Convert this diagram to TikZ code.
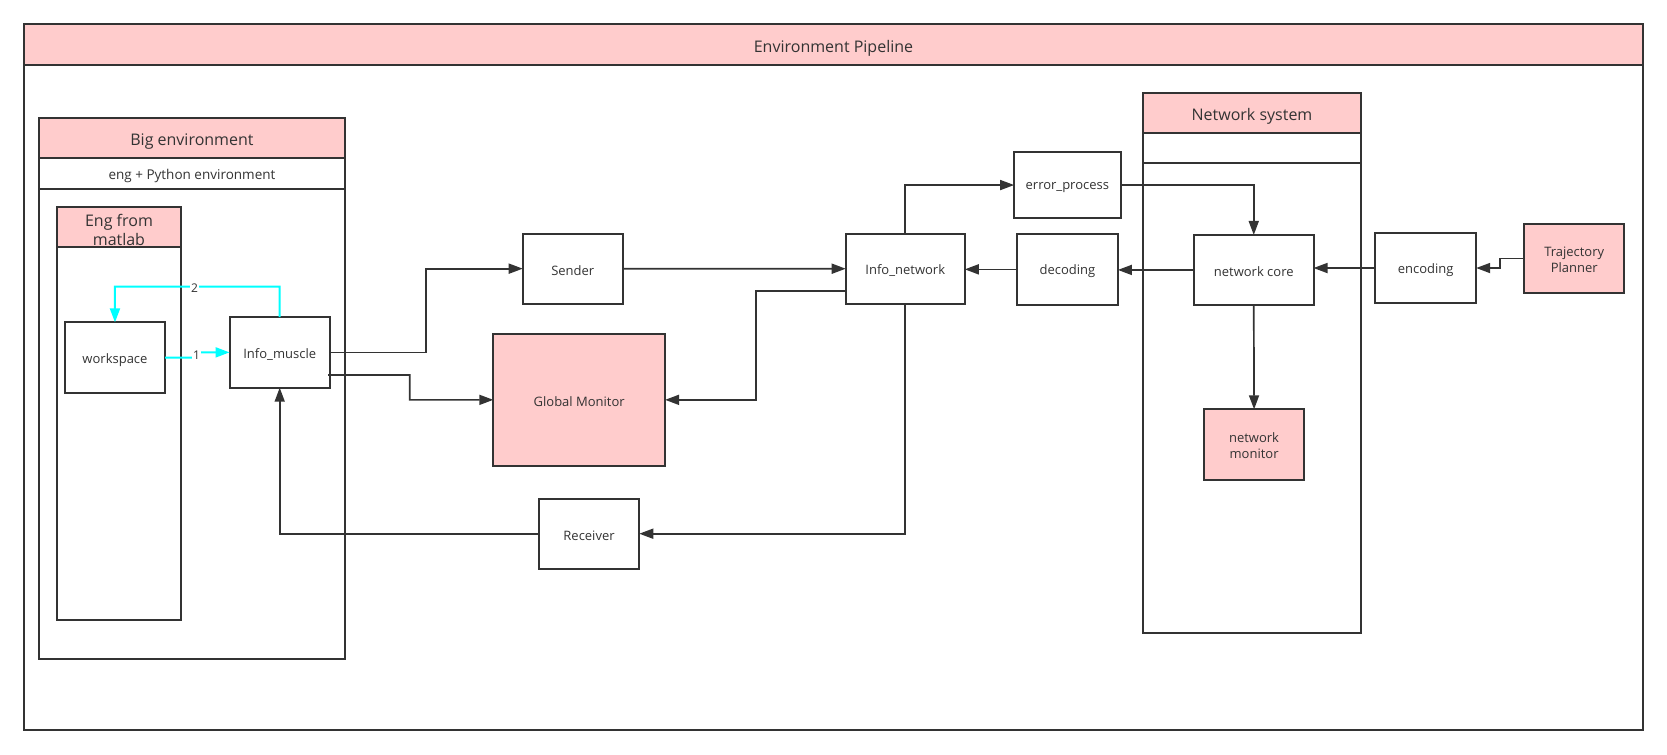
\documentclass[tikz,border=0pt]{standalone}
\usepackage{fontspec}
\setmainfont{Open Sans}
\usetikzlibrary{arrows.meta,calc}
\definecolor{pinkfill}{HTML}{FFCCCC}
\definecolor{ink}{HTML}{333333}
\definecolor{aqua}{HTML}{00FFFF}
\newcommand\mkbox[8]{%
  \node[#1,minimum width={(#5-#3)*1.0631pt},minimum height={(#6-#4)*1.0631pt}] (#2) at ({(#3+#5)/2},{(#4+#6)/2}) {};
  \node[#1,draw=none,fill=none] (#2-t) at ($(#2.center)+(0,#7)$) {#8};}
\begin{document}
\begin{tikzpicture}[x=1.0631pt,y=-1.0631pt,
  box/.style={draw=ink,line width=2pt,inner sep=0pt,outer sep=0pt,text=ink,align=center,font=\fontsize{13}{16}\selectfont},
  pinkbox/.style={box,fill=pinkfill},
  headbox/.style={pinkbox,font=\fontsize{16}{19}\selectfont},
  subbox/.style={box,font=\fontsize{13.5}{16}\selectfont},
  conn/.style={draw=ink,line width=1.7pt,-{Triangle[length=14pt,width=10pt]}},
  cyanconn/.style={draw=aqua,line width=2pt,-{Triangle[length=14pt,width=10pt]}},
  numlabel/.style={fill=white,inner sep=1pt,text=ink,font=\fontsize{12}{14}\selectfont}]
\useasboundingbox (0,0) rectangle (1568,710);
\fill[white] (0,0) rectangle (1568,710);
% outer container
\mkbox{box}{outer}{23}{61}{1545}{687}{0}{}
\mkbox{headbox}{titlebar}{23}{23}{1545}{61}{3.5}{Environment Pipeline}
% Big environment
\mkbox{box}{bigbody}{36.5}{177.5}{324.6}{620}{0}{}
\mkbox{headbox}{bighead}{36.5}{111.3}{324.6}{148.9}{3.5}{Big environment}
\mkbox{subbox}{bigsub}{36.5}{148.9}{324.6}{177.5}{2}{eng + Python environment}
% Eng from matlab
\mkbox{box}{engbody}{53.8}{232.3}{170}{583}{0}{}
\mkbox{headbox}{enghead}{53.8}{194.7}{170}{232.3}{2.5}{Eng from\\matlab}
% Network system
\mkbox{box}{netbody}{1075}{153.3}{1280.3}{595}{0}{}
\mkbox{headbox}{nethead}{1075}{87.9}{1280.3}{124.9}{3.5}{Network system}
\mkbox{box}{netsub}{1075}{124.9}{1280.3}{153.3}{0}{}
% nodes
\mkbox{box}{ws}{60.9}{303.2}{155.4}{369.4}{2}{workspace}
\mkbox{box}{im}{215.9}{298.2}{310.3}{364.7}{2}{Info\_muscle}
\mkbox{box}{sender}{491.7}{219.8}{585.8}{285.6}{2}{Sender}
\mkbox{pinkbox}{gm}{464}{313.9}{625.6}{438.3}{2}{Global Monitor}
\mkbox{box}{rcv}{506.8}{469.1}{601.3}{534.9}{2}{Receiver}
\mkbox{box}{inet}{795.5}{219.8}{907.5}{285.7}{2}{Info\_network}
\mkbox{box}{ep}{953.9}{142.7}{1054}{205.4}{2}{error\_process}
\mkbox{box}{dec}{956.7}{220.1}{1051.5}{286.6}{2}{decoding}
\mkbox{box}{core}{1123.1}{221}{1235.5}{286.8}{2}{network core}
\mkbox{pinkbox}{nmon}{1132.3}{385}{1226.9}{451.1}{1.5}{network\\monitor}
\mkbox{box}{enc}{1293.6}{219.2}{1388.5}{285}{2}{encoding}
\mkbox{pinkbox}{tp}{1433.4}{210.5}{1528}{276}{1.5}{Trajectory\\Planner}
% cyan connectors
\draw[cyanconn] (ws.east) -- (184.8,336.3) -- (184.8,331.45) -- (im.west);
\node[numlabel] (lab1) at (184.8,334.5) {1};
\draw[cyanconn] (im.north) -- (263.1,269.6) -| (ws.north);
\node[numlabel] (lab2) at (183,271) {2};
% dark connectors
\draw[conn] (im.east) -- (401,331.45) |- (sender.west);
\draw[conn] ($(im.east)+(-1.7,21.3)$) -- (385.5,352.75) |- (gm.west);
\draw[conn] (rcv.west) -| (im.south);
\draw[conn] (sender.west -| sender.east) -- (inet.west);
\draw[conn] ($(inet.south west)+(0,-12)$) -- (711,273.7) |- (gm.east);
\draw[conn] (inet.north) |- (ep.west);
\draw[conn] (inet.south) |- (rcv.east);
\draw[conn] (dec.west) -- (dec.west -| inet.east);
\draw[conn] (core.west) -- (core.west -| dec.east);
\draw[conn] (ep.east) -| (core.north);
\draw[conn] (core.south) -- (nmon.north);
\draw[conn] (enc.west) -- (enc.west -| core.east);
\draw[conn] (tp.west) -- (1410.6,243.25) |- (enc.east);
\end{tikzpicture}
\end{document}
